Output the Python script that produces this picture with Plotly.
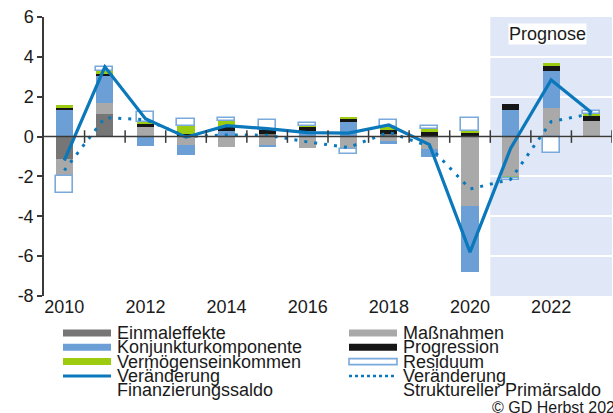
import plotly.graph_objects as go

# ---------------- data ----------------
years = list(range(2010, 2024))
einmaleffekte = [-1.15, 1.14, 0, 0, 0, 0.13, 0, 0, 0.13, 0, 0, 0, 0, 0]
massnahmen = [-0.84, 0.53, 0.47, -0.40, -0.50, -0.40, -0.55, -0.62, -0.23, -0.60, -3.50, -2.02, 1.43, 0.80]
konjunktur = [1.35, 1.39, -0.45, -0.52, 0.30, -0.13, 0.30, 0.72, -0.14, -0.43, -3.30, 1.35, 1.84, 0]
progression = [0.12, 0.12, 0.17, 0.13, 0.17, 0.20, 0.20, 0.17, 0.20, 0.25, 0.18, 0.30, 0.28, 0.28]
vermoegen = [0.09, 0.10, 0.11, 0.42, 0.33, 0, 0.05, 0.11, 0.14, 0.12, 0.12, -0.08, 0.15, 0.06]
residuum = [-0.83, 0.20, 0.50, 0.34, 0.14, 0.50, 0.15, -0.25, 0.38, 0.15, 0.64, -0.08, -0.80, 0.13]
fin_saldo = [-1.2, 3.5, 0.9, -0.03, 0.55, 0.4, 0.2, 0.17, 0.58, -0.4, -5.8, -0.6, 2.84, 1.2]
struct_saldo = [-1.7, 0.95, 0.85, 0.0, 0.08, 0.07, -0.27, -0.55, 0.22, -0.5, -2.63, -2.15, 0.75, 1.15]
y_ticks = [-8, -6, -4, -2, 0, 2, 4, 6]
x_ticks = [2010, 2012, 2014, 2016, 2018, 2020, 2022]
forecast_start = 2021
forecast_label = "Prognose"
copyright_text = "© GD Herbst 2023"

# ---------------- styles ----------------
FONT = "Liberation Sans, Arial, Helvetica, sans-serif"
TXT = "#1a1a1a"
AX = "#3a3a3a"
C_EIN = "#767676"
C_MAS = "#a9a9a9"
C_KON = "#6b9fd6"
C_PRO = "#161616"
C_VER = "#9ccb10"
C_RES = "#7aa9dc"
C_LINE = "#0a78bb"
SHADE = "#e0e7f6"

W, H = 613, 413
PLOT_L, PLOT_R, PLOT_T, PLOT_B = 44, 612, 17, 296   # page pixels
ML, MT = PLOT_L, PLOT_T
MR, MB = W - PLOT_R, H - PLOT_B
PW, PH = PLOT_R - PLOT_L, PLOT_B - PLOT_T


def px(x):
    return (x - PLOT_L) / PW


def py(y):
    return (PLOT_B - y) / PH


fig = go.Figure()
bar_w = 0.42
bar_series = [
    ("Einmaleffekte", einmaleffekte, C_EIN, None),
    ("Maßnahmen", massnahmen, C_MAS, None),
    ("Konjunkturkomponente", konjunktur, C_KON, None),
    ("Progression", progression, C_PRO, None),
    ("Vermögenseinkommen", vermoegen, C_VER, None),
    ("Residuum", residuum, "white", C_RES),
]
for name, vals, col, outline in bar_series:
    fig.add_trace(go.Bar(
        x=years, y=vals, name=name, width=bar_w,
        marker=dict(color=col,
                    line=dict(color=outline if outline else col,
                              width=1.6 if outline else 0)),
        showlegend=False,
    ))

fig.add_trace(go.Scatter(
    x=years, y=struct_saldo, mode="lines", name="Veränderung Struktureller Primärsaldo",
    line=dict(color=C_LINE, width=3, dash="3px,7px"), showlegend=False,
))
fig.add_trace(go.Scatter(
    x=years, y=fin_saldo, mode="lines", name="Veränderung Finanzierungssaldo",
    line=dict(color=C_LINE, width=3.2), showlegend=False,
))

# tick marks on the zero line between years
fig.add_trace(go.Scatter(
    x=[y + 0.5 for y in years], y=[0] * len(years), mode="markers",
    marker=dict(symbol="line-ns", size=9, line=dict(color=AX, width=1.5)),
    hoverinfo="skip", showlegend=False,
))

shapes = [
    dict(type="rect", xref="x", yref="y", x0=forecast_start - 0.5, x1=years[-1] + 0.5,
         y0=min(y_ticks), y1=max(y_ticks), fillcolor=SHADE, line=dict(width=0), layer="below"),
    dict(type="line", xref="paper", yref="y", x0=0, x1=1, y0=0, y1=0,
         line=dict(color=AX, width=1.6), layer="above"),
]

annotations = [
    dict(x=forecast_start + 0.92, y=5.15, xref="x", yref="y", text=forecast_label,
         showarrow=False, bgcolor="white", borderpad=0,
         font=dict(size=18, color=TXT, family=FONT)),
    dict(x=px(490), y=py(407), xref="paper", yref="paper", text=copyright_text,
         showarrow=False, xanchor="left", yanchor="middle",
         font=dict(size=16, color=TXT, family=FONT)),
]

# ---------------- manual legend ----------------
legend_left = [
    ("Einmaleffekte", "bar", C_EIN),
    ("Konjunkturkomponente", "bar", C_KON),
    ("Vermögenseinkommen", "bar", C_VER),
    ("Veränderung<br>Finanzierungssaldo", "line", C_LINE),
]
legend_right = [
    ("Maßnahmen", "bar", C_MAS),
    ("Progression", "bar", C_PRO),
    ("Residuum", "box", C_RES),
    ("Veränderung<br>Struktureller Primärsaldo", "dot", C_LINE),
]
row_y0, row_dy = 333, 14.3
for col_x, items in ((63, legend_left), (349, legend_right)):
    for i, (label, kind, col) in enumerate(items):
        yc = row_y0 + i * row_dy
        x0, x1 = px(col_x), px(col_x + 48)
        if kind == "bar":
            shapes.append(dict(type="rect", xref="paper", yref="paper", x0=x0, x1=x1,
                               y0=py(yc + 3.5), y1=py(yc - 3.5), fillcolor=col,
                               line=dict(width=0)))
        elif kind == "box":
            shapes.append(dict(type="rect", xref="paper", yref="paper", x0=x0, x1=x1,
                               y0=py(yc + 3), y1=py(yc - 3), fillcolor="white",
                               line=dict(color=col, width=1.6)))
        else:
            shapes.append(dict(type="line", xref="paper", yref="paper", x0=x0, x1=x1,
                               y0=py(yc), y1=py(yc),
                               line=dict(color=col, width=3 if kind == "line" else 2.5,
                                         dash="solid" if kind == "line" else "3px,3px")))
        for j, part in enumerate(label.split("<br>")):
            annotations.append(dict(x=px(col_x + 52), y=py(yc + j * row_dy), xref="paper",
                                    yref="paper", text=part, showarrow=False,
                                    xanchor="left", yanchor="middle",
                                    font=dict(size=18, color=TXT, family=FONT)))

fig.update_layout(
    width=W, height=H, margin=dict(l=ML, r=MR, t=MT, b=MB),
    paper_bgcolor="white", plot_bgcolor="white",
    barmode="relative", bargap=0,
    font=dict(family=FONT, size=18, color=TXT),
    shapes=shapes, annotations=annotations,
    xaxis=dict(range=[years[0] - 0.5, years[-1] + 0.5], tickvals=x_ticks,
               ticktext=[str(v) for v in x_ticks], showgrid=False, zeroline=False,
               showline=False, ticks="", ticklabelstandoff=-2,
               tickfont=dict(size=18, color=TXT)),
    yaxis=dict(range=[min(y_ticks), max(y_ticks)], tickvals=y_ticks,
               ticktext=[str(v) for v in y_ticks], showgrid=True, gridcolor="white",
               gridwidth=1.5, zeroline=False, showline=True, linecolor=AX, linewidth=1.5,
               ticks="outside", ticklen=5, tickcolor=AX, tickwidth=1.5,
               ticklabeloverflow="allow",
               tickfont=dict(size=18, color=TXT)),
    showlegend=False,
)

# place the 613x413 figure flush with the page corner (no default body margin)
fig.write_html(
    "out.html",
    config={"displayModeBar": False},
    post_script="document.body.style.margin='0';document.body.style.overflow='hidden';",
)
